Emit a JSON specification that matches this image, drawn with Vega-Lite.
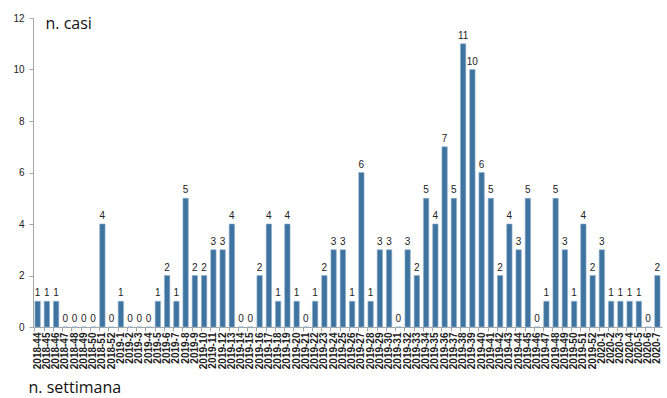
{
  "$schema": "https://vega.github.io/schema/vega-lite/v6.json",
  "width": 629,
  "height": 309,
  "autosize": {"type": "none"},
  "padding": {"left": 33, "top": 18, "right": 5, "bottom": 71},
  "background": "white",
  "config": {"view": {"stroke": null}},
  "data": {
    "values": [
      {"settimana": "2018-44", "casi": 1}, {"settimana": "2018-45", "casi": 1}, {"settimana": "2018-46", "casi": 1},
      {"settimana": "2018-47", "casi": 0}, {"settimana": "2018-48", "casi": 0}, {"settimana": "2018-49", "casi": 0},
      {"settimana": "2018-50", "casi": 0}, {"settimana": "2018-51", "casi": 4}, {"settimana": "2018-52", "casi": 0},
      {"settimana": "2019-1", "casi": 1}, {"settimana": "2019-2", "casi": 0}, {"settimana": "2019-3", "casi": 0},
      {"settimana": "2019-4", "casi": 0}, {"settimana": "2019-5", "casi": 1}, {"settimana": "2019-6", "casi": 2},
      {"settimana": "2019-7", "casi": 1}, {"settimana": "2019-8", "casi": 5}, {"settimana": "2019-9", "casi": 2},
      {"settimana": "2019-10", "casi": 2}, {"settimana": "2019-11", "casi": 3}, {"settimana": "2019-12", "casi": 3},
      {"settimana": "2019-13", "casi": 4}, {"settimana": "2019-14", "casi": 0}, {"settimana": "2019-15", "casi": 0},
      {"settimana": "2019-16", "casi": 2}, {"settimana": "2019-17", "casi": 4}, {"settimana": "2019-18", "casi": 1},
      {"settimana": "2019-19", "casi": 4}, {"settimana": "2019-20", "casi": 1}, {"settimana": "2019-21", "casi": 0},
      {"settimana": "2019-22", "casi": 1}, {"settimana": "2019-23", "casi": 2}, {"settimana": "2019-24", "casi": 3},
      {"settimana": "2019-25", "casi": 3}, {"settimana": "2019-26", "casi": 1}, {"settimana": "2019-27", "casi": 6},
      {"settimana": "2019-28", "casi": 1}, {"settimana": "2019-29", "casi": 3}, {"settimana": "2019-30", "casi": 3},
      {"settimana": "2019-31", "casi": 0}, {"settimana": "2019-32", "casi": 3}, {"settimana": "2019-33", "casi": 2},
      {"settimana": "2019-34", "casi": 5}, {"settimana": "2019-35", "casi": 4}, {"settimana": "2019-36", "casi": 7},
      {"settimana": "2019-37", "casi": 5}, {"settimana": "2019-38", "casi": 11}, {"settimana": "2019-39", "casi": 10},
      {"settimana": "2019-40", "casi": 6}, {"settimana": "2019-41", "casi": 5}, {"settimana": "2019-42", "casi": 2},
      {"settimana": "2019-43", "casi": 4}, {"settimana": "2019-44", "casi": 3}, {"settimana": "2019-45", "casi": 5},
      {"settimana": "2019-46", "casi": 0}, {"settimana": "2019-47", "casi": 1}, {"settimana": "2019-48", "casi": 5},
      {"settimana": "2019-49", "casi": 3}, {"settimana": "2019-50", "casi": 1}, {"settimana": "2019-51", "casi": 4},
      {"settimana": "2019-52", "casi": 2}, {"settimana": "2020-1", "casi": 3}, {"settimana": "2020-2", "casi": 1},
      {"settimana": "2020-3", "casi": 1}, {"settimana": "2020-4", "casi": 1}, {"settimana": "2020-5", "casi": 1},
      {"settimana": "2020-6", "casi": 0}, {"settimana": "2020-7", "casi": 2}
    ]
  },
  "resolve": {"axis": {"x": "independent"}},
  "layer": [
    {
      "mark": {"type": "bar", "color": "#3F73A0", "stroke": "#8FB0CF", "strokeWidth": 0.6},
      "encoding": {
        "x": {
          "field": "settimana", "type": "nominal", "sort": null,
          "scale": {"paddingInner": 0.42, "paddingOuter": 0.21},
          "axis": {
            "orient": "bottom",
            "title": "n. settimana",
            "titleAnchor": "start", "titleAlign": "left", "titleBaseline": "middle",
            "titleX": -5, "titleY": 60,
            "titleFont": "Open Sans", "titleFontSize": 16, "titleFontWeight": "normal", "titleColor": "#111",
            "labelAngle": -90, "labelAlign": "right", "labelBaseline": "middle",
            "labelFont": "Liberation Sans", "labelFontSize": 10, "labelFontWeight": "bold", "labelColor": "#222",
            "labelPadding": 5, "labelOverlap": false,
            "ticks": false, "domain": true, "domainColor": "#A6A6A6"
          }
        },
        "y": {
          "field": "casi", "type": "quantitative",
          "scale": {"domain": [0, 12]},
          "axis": {
            "values": [0, 2, 4, 6, 8, 10, 12],
            "grid": false,
            "title": "n. casi",
            "titleAngle": 0, "titleAlign": "left", "titleBaseline": "middle",
            "titleX": 12, "titleY": 5,
            "titleFont": "Open Sans", "titleFontSize": 16, "titleFontWeight": "normal", "titleColor": "#111",
            "labelFont": "Liberation Sans", "labelFontSize": 10, "labelColor": "#222", "labelPadding": 5,
            "domainColor": "#A6A6A6", "tickColor": "#A6A6A6", "tickSize": 4
          }
        }
      }
    },
    {
      "mark": {"type": "text", "dy": -8, "font": "Liberation Sans", "fontSize": 10, "color": "#222"},
      "encoding": {
        "x": {
          "field": "settimana", "type": "nominal", "sort": null,
          "axis": {
            "orient": "bottom", "title": null, "labels": false, "domain": false,
            "ticks": true, "tickColor": "#A6A6A6", "tickSize": 4, "bandPosition": 0
          }
        },
        "y": {"field": "casi", "type": "quantitative"},
        "text": {"field": "casi", "type": "quantitative"}
      }
    }
  ]
}
